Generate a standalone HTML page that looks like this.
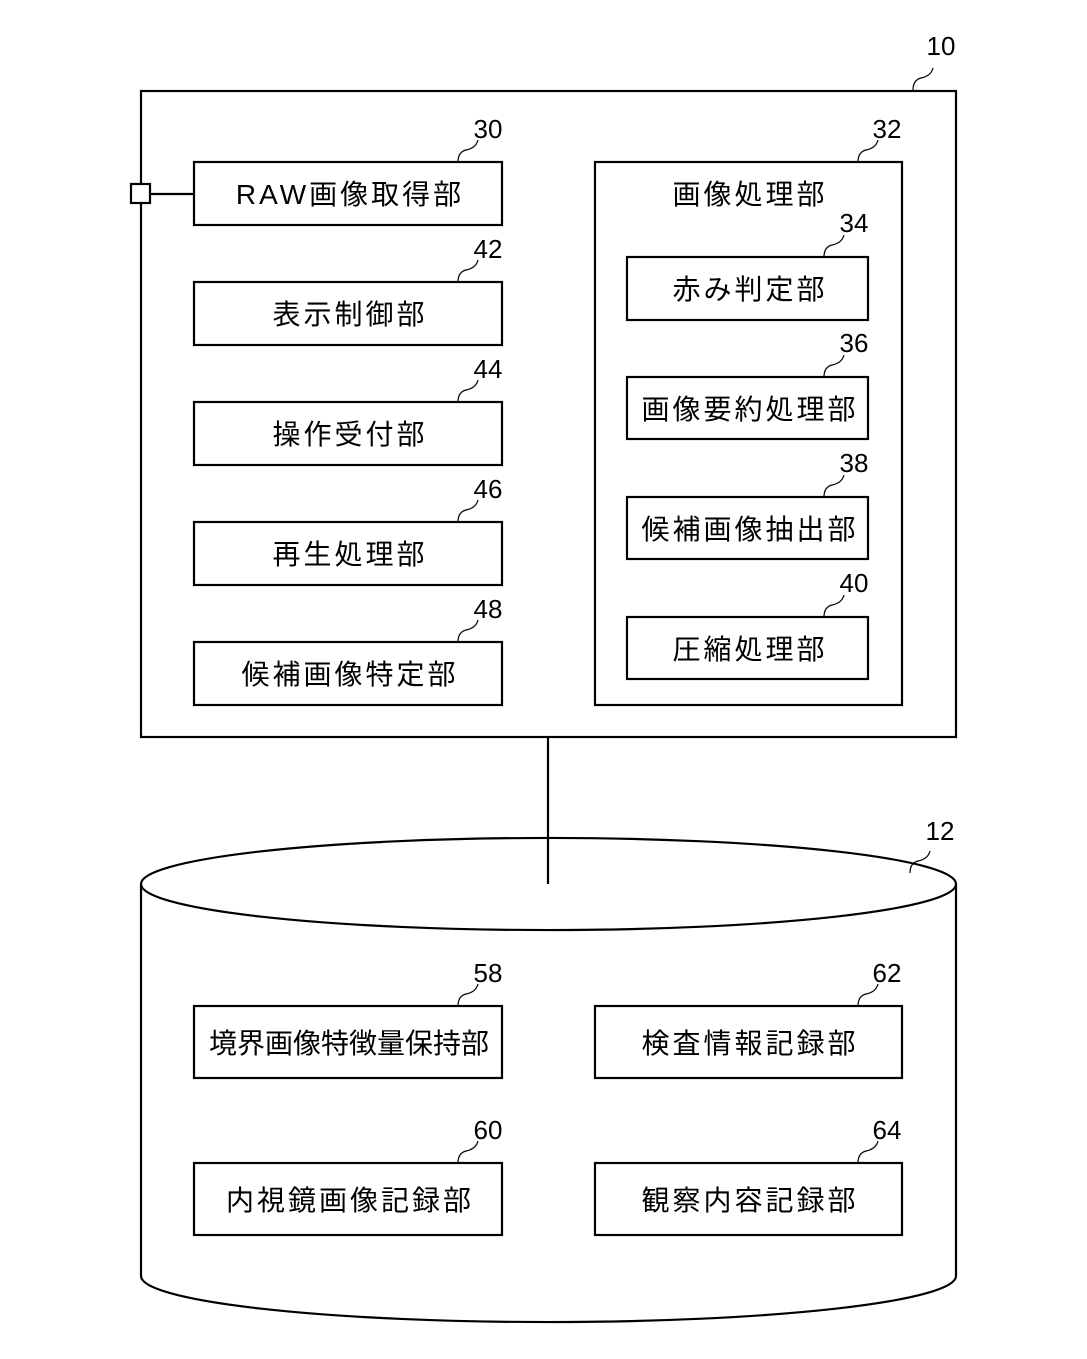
<!DOCTYPE html>
<html><head><meta charset="utf-8"><style>
body{margin:0;background:#fff}
svg text{font-family:"Liberation Sans","Noto Sans CJK JP",sans-serif;fill:#000}
.t{font-size:28px;text-anchor:middle;letter-spacing:3px}
.n{font-size:26px;text-anchor:middle}
</style></head><body>
<svg width="1087" height="1354" viewBox="0 0 1087 1354" xmlns="http://www.w3.org/2000/svg">
<g fill="none" stroke="#000" stroke-width="2.2">
<rect x="141" y="91" width="815" height="646"/>
<rect x="131" y="184" width="19" height="19" fill="#fff"/>
<line x1="150" y1="194" x2="194" y2="194"/>
<rect x="194" y="162" width="308" height="63"/>
<rect x="194" y="282" width="308" height="63"/>
<rect x="194" y="402" width="308" height="63"/>
<rect x="194" y="522" width="308" height="63"/>
<rect x="194" y="642" width="308" height="63"/>
<rect x="595" y="162" width="307" height="543"/>
<rect x="627" y="257" width="241" height="63"/>
<rect x="627" y="377" width="241" height="62"/>
<rect x="627" y="497" width="241" height="62"/>
<rect x="627" y="617" width="241" height="62"/>
<line x1="548" y1="737" x2="548" y2="884"/>
<path d="M141 884 A407 46 0 0 1 956 884 L956 1276 A407 46 0 0 1 141 1276 Z" fill="none"/>
<path d="M141 884 A407 46 0 0 0 956 884"/>
<rect x="194" y="1006" width="308" height="72"/>
<rect x="595" y="1006" width="307" height="72"/>
<rect x="194" y="1163" width="308" height="72"/>
<rect x="595" y="1163" width="307" height="72"/>
</g>
<g fill="none" stroke="#000" stroke-width="1.2">
<path d="M913 90 q0-10 8-12 q10-2 12-10"/>
<path d="M458 162 q0-10 8-12 q10-2 12-10"/>
<path d="M458 282 q0-10 8-12 q10-2 12-10"/>
<path d="M458 402 q0-10 8-12 q10-2 12-10"/>
<path d="M458 522 q0-10 8-12 q10-2 12-10"/>
<path d="M458 642 q0-10 8-12 q10-2 12-10"/>
<path d="M858 162 q0-10 8-12 q10-2 12-10"/>
<path d="M824 257 q0-10 8-12 q10-2 12-10"/>
<path d="M824 377 q0-10 8-12 q10-2 12-10"/>
<path d="M824 497 q0-10 8-12 q10-2 12-10"/>
<path d="M824 617 q0-10 8-12 q10-2 12-10"/>
<path d="M910 873 q0-10 8-12 q10-2 12-10"/>
<path d="M458 1006 q0-10 8-12 q10-2 12-10"/>
<path d="M858 1006 q0-10 8-12 q10-2 12-10"/>
<path d="M458 1163 q0-10 8-12 q10-2 12-10"/>
<path d="M858 1163 q0-10 8-12 q10-2 12-10"/>
</g>
<text class="n" x="941" y="55">10</text>
<text class="n" x="488" y="138">30</text>
<text class="n" x="488" y="258">42</text>
<text class="n" x="488" y="378">44</text>
<text class="n" x="488" y="498">46</text>
<text class="n" x="488" y="618">48</text>
<text class="n" x="887" y="138">32</text>
<text class="n" x="854" y="232">34</text>
<text class="n" x="854" y="352">36</text>
<text class="n" x="854" y="472">38</text>
<text class="n" x="854" y="592">40</text>
<text class="n" x="940" y="840">12</text>
<text class="n" x="488" y="982">58</text>
<text class="n" x="887" y="982">62</text>
<text class="n" x="488" y="1139">60</text>
<text class="n" x="887" y="1139">64</text>
<text class="t" x="350" y="204">RAW画像取得部</text>
<text class="t" x="350" y="324">表示制御部</text>
<text class="t" x="350" y="444">操作受付部</text>
<text class="t" x="350" y="564">再生処理部</text>
<text class="t" x="350" y="684">候補画像特定部</text>
<text class="t" x="750" y="204">画像処理部</text>
<text class="t" x="750" y="299">赤み判定部</text>
<text class="t" x="750" y="419">画像要約処理部</text>
<text class="t" x="750" y="539">候補画像抽出部</text>
<text class="t" x="750" y="659">圧縮処理部</text>
<text class="t" x="349" y="1053" style="letter-spacing:0">境界画像特徴量保持部</text>
<text class="t" x="750" y="1053">検査情報記録部</text>
<text class="t" x="350" y="1210">内視鏡画像記録部</text>
<text class="t" x="750" y="1210">観察内容記録部</text>
</svg>
</body></html>
